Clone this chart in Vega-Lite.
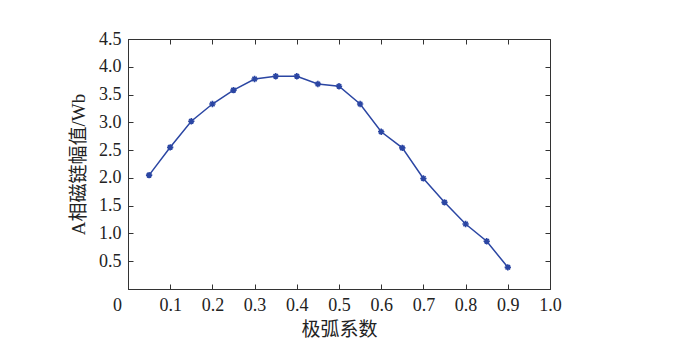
{
  "$schema": "https://vega.github.io/schema/vega-lite/v6.json",
  "width": 422,
  "height": 250,
  "autosize": "none",
  "padding": {"left": 128, "top": 39, "right": 130, "bottom": 57},
  "background": "white",
  "config": {
    "view": {"stroke": "#333333", "strokeWidth": 1},
    "axis": {
      "labelFont": "Liberation Serif",
      "labelFontSize": 18,
      "labelColor": "#222222",
      "titleFont": "Liberation Serif, Noto Sans CJK SC",
      "titleFontSize": 19,
      "titleFontWeight": "normal",
      "titleColor": "#222222",
      "domainColor": "#333333",
      "tickColor": "#333333",
      "grid": false
    }
  },
  "data": {
    "values": [
      {"k": 0.05, "phi": 2.05},
      {"k": 0.10, "phi": 2.55},
      {"k": 0.15, "phi": 3.02},
      {"k": 0.20, "phi": 3.33},
      {"k": 0.25, "phi": 3.58},
      {"k": 0.30, "phi": 3.78},
      {"k": 0.35, "phi": 3.83},
      {"k": 0.40, "phi": 3.83},
      {"k": 0.45, "phi": 3.69},
      {"k": 0.50, "phi": 3.65},
      {"k": 0.55, "phi": 3.33},
      {"k": 0.60, "phi": 2.83},
      {"k": 0.65, "phi": 2.54},
      {"k": 0.70, "phi": 1.99},
      {"k": 0.75, "phi": 1.56},
      {"k": 0.80, "phi": 1.17},
      {"k": 0.85, "phi": 0.86},
      {"k": 0.90, "phi": 0.39}
    ]
  },
  "resolve": {"axis": {"x": "independent", "y": "independent"}},
  "layer": [
    {
      "mark": {"type": "line", "color": "#2b46a3", "strokeWidth": 1.5},
      "encoding": {
        "x": {
          "field": "k", "type": "quantitative",
          "scale": {"domain": [0, 1], "nice": false},
          "axis": {
            "title": "极弧系数",
            "values": [0, 0.1, 0.2, 0.3, 0.4, 0.5, 0.6, 0.7, 0.8, 0.9, 1.0],
            "labelExpr": "datum.value === 0 ? '0' : format(datum.value, '.1f')",
            "tickSize": -5,
            "labelPadding": 12,
            "titlePadding": 6,
            "labelFlush": false,
            "labelOffset": {"condition": {"test": "datum.value === 0", "value": -11}, "value": 0}
          }
        },
        "y": {
          "field": "phi", "type": "quantitative",
          "scale": {"domain": [0, 4.5], "nice": false},
          "axis": {
            "title": "A相磁链幅值/Wb",
            "values": [0.5, 1.0, 1.5, 2.0, 2.5, 3.0, 3.5, 4.0, 4.5],
            "format": ".1f",
            "tickSize": -5,
            "labelPadding": 12,
            "titlePadding": 10,
            "labelFlush": false
          }
        }
      }
    },
    {
      "mark": {
        "type": "point",
        "shape": "M-1,0L1,0M0,-1L0,1M-0.7,-0.7L0.7,0.7M-0.7,0.7L0.7,-0.7",
        "filled": false,
        "color": "#2b46a3",
        "strokeWidth": 1.6,
        "size": 40,
        "opacity": 1
      },
      "encoding": {
        "x": {
          "field": "k", "type": "quantitative",
          "scale": {"domain": [0, 1], "nice": false},
          "axis": {
            "orient": "top", "title": null, "labels": false,
            "values": [0.1, 0.2, 0.3, 0.4, 0.5, 0.6, 0.7, 0.8, 0.9],
            "tickSize": -5
          }
        },
        "y": {
          "field": "phi", "type": "quantitative",
          "scale": {"domain": [0, 4.5], "nice": false},
          "axis": {
            "orient": "right", "title": null, "labels": false,
            "values": [0.5, 1.0, 1.5, 2.0, 2.5, 3.0, 3.5, 4.0],
            "tickSize": -5
          }
        }
      }
    }
  ]
}
